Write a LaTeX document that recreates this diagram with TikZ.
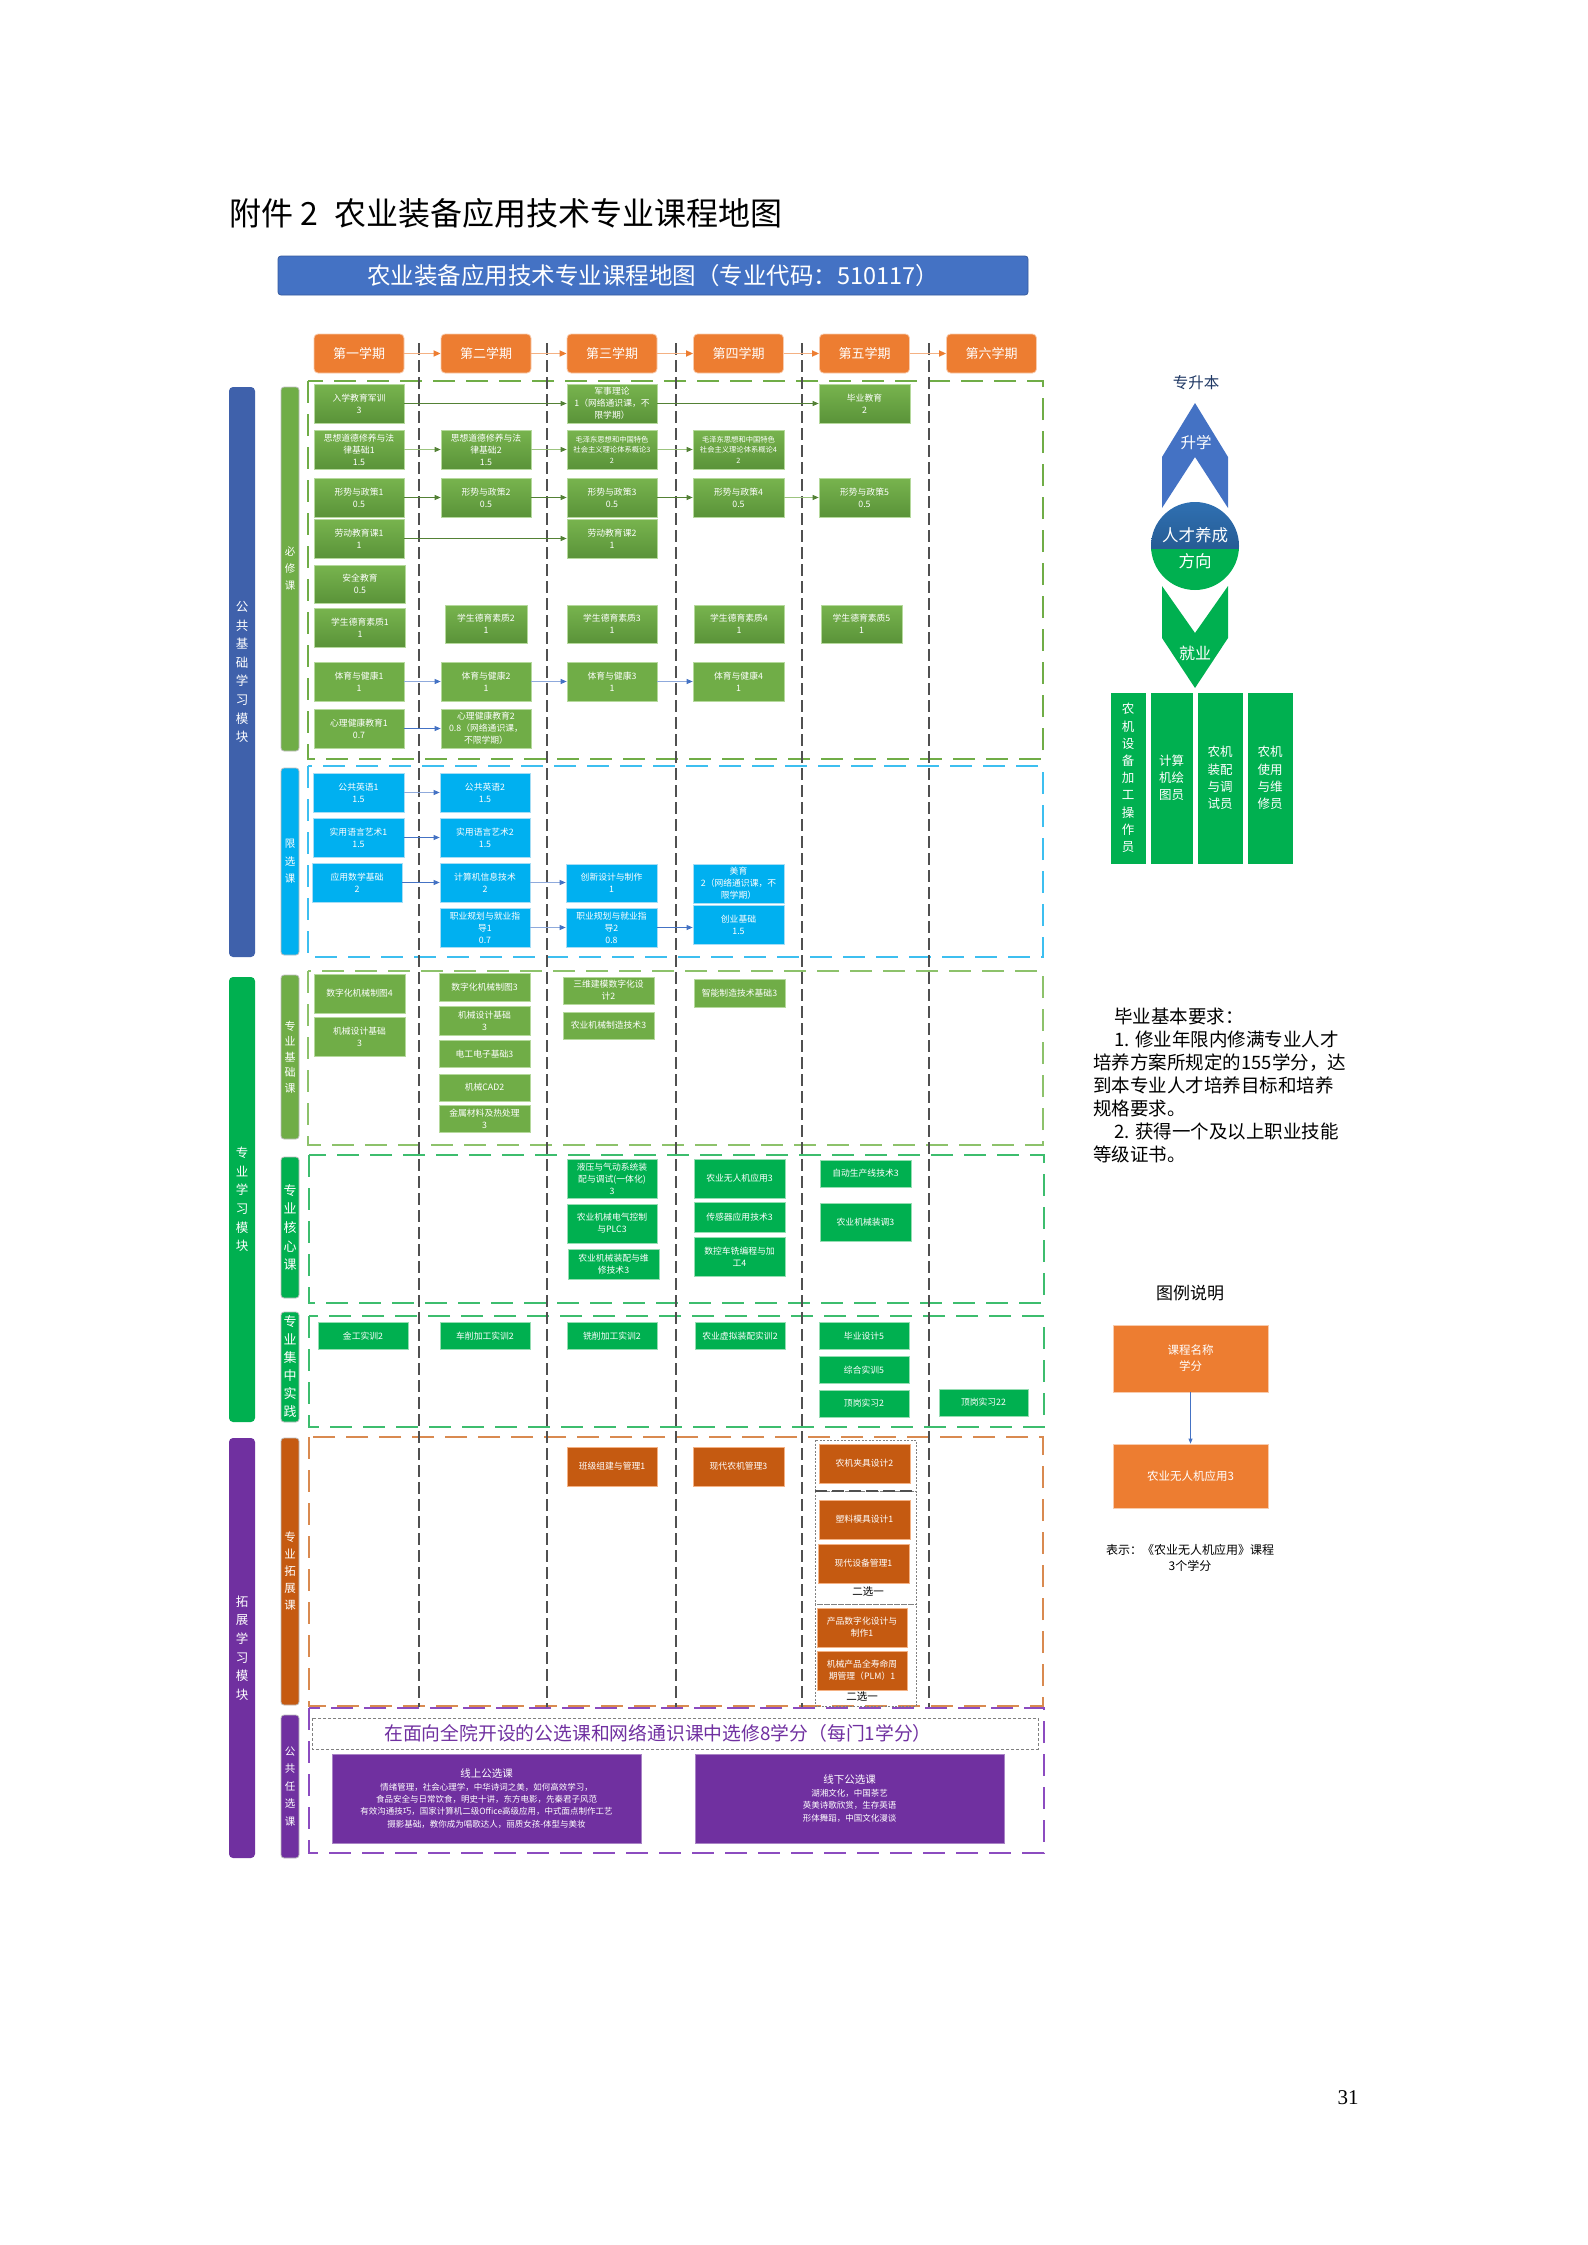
\documentclass[tikz,border=0pt]{standalone}
\usepackage{fontspec}
\setmainfont{Noto Sans CJK SC}
\newfontfamily\serifnum{Liberation Serif}
\usetikzlibrary{arrows.meta}
\definecolor{gAa}{HTML}{78B44E}
\definecolor{gAb}{HTML}{5A9339}
\definecolor{gAe}{HTML}{B5D99C}
\definecolor{cB}{HTML}{00B0F0}
\definecolor{cBe}{HTML}{A6DDF5}
\definecolor{cC}{HTML}{70AD47}
\definecolor{cCe}{HTML}{B5D99C}
\definecolor{cD}{HTML}{00B050}
\definecolor{cDe}{HTML}{95DDB2}
\definecolor{cE}{HTML}{C55A11}
\definecolor{cEe}{HTML}{F4B183}
\definecolor{hdr}{HTML}{ED7D31}
\definecolor{hdre}{HTML}{F8CBAD}
\definecolor{harr}{HTML}{F4B183}
\definecolor{secA}{HTML}{70AD47}
\definecolor{secB}{HTML}{3DBFF0}
\definecolor{secC}{HTML}{8DC26B}
\definecolor{secD}{HTML}{3DBD6E}
\definecolor{secE}{HTML}{D98A50}
\definecolor{secF}{HTML}{8C4CC0}
\definecolor{sepc}{HTML}{505050}
\definecolor{barblue}{HTML}{3F61AB}
\definecolor{purp}{HTML}{7030A0}
\definecolor{bann}{HTML}{4472C4}
\definecolor{circA}{HTML}{2F70B2}
\definecolor{circB}{HTML}{1F4A7A}
\definecolor{navy}{HTML}{1F3864}
\definecolor{arrG}{HTML}{538135}
\definecolor{arrGl}{HTML}{9CC47F}
\definecolor{arrB}{HTML}{4472C4}
\definecolor{arrBl}{HTML}{8FAADC}
\definecolor{barline}{HTML}{BFBFBF}
\tikzset{
  bx/.style={minimum width=90pt, minimum height=39pt, inner sep=0.5pt, align=center, text=white, font=\fontsize{8.8}{12}\selectfont, line width=0.7pt},
  bA/.style={bx, top color=gAa, bottom color=gAb, draw=gAe},
  bB/.style={bx, fill=cB, draw=cBe},
  bC/.style={bx, fill=cC, draw=cCe},
  bD/.style={bx, fill=cD, draw=cDe},
  bE/.style={bx, fill=cE, draw=cEe},
  sepline/.style={draw=sepc, line width=1.3pt, dash pattern=on 12pt off 5pt},
  secbox/.style={line width=1.6pt, dash pattern=on 22pt off 11pt},
  hdbox/.style={fill=hdr, draw=hdre, line width=0.8pt, rounded corners=4pt, minimum width=90pt, minimum height=39pt, text=white, font=\fontsize{13}{15}\selectfont},
  harrow/.style={draw=harr, line width=1.6pt, -{Triangle[length=7pt,width=6pt,color=hdr]}},
  aG/.style={draw=arrG, line width=0.9pt, -{Triangle[length=6pt,width=5pt,color=arrG]}},
  aGl/.style={draw=arrGl, line width=0.9pt, -{Triangle[length=6pt,width=5pt,color=arrG]}},
  aB/.style={draw=arrB, line width=0.9pt, -{Triangle[length=6pt,width=5pt,color=arrB]}},
  aBl/.style={draw=arrBl, line width=0.9pt, -{Triangle[length=6pt,width=5pt,color=arrB]}},
  barout/.style={rounded corners=4pt, minimum width=26pt, inner sep=0pt, text=white, align=center, font=\fontsize{12.5}{18.6}\selectfont},
  barin/.style={rounded corners=3pt, minimum width=18pt, inner sep=0pt, text=white, align=center, draw=barline, line width=0.8pt},
  gbox/.style={fill=cD, draw=white, line width=1pt, text=white, align=center, inner sep=0pt, minimum height=172pt, font=\fontsize{12.5}{17.2}\selectfont},
}
\begin{document}
\begin{tikzpicture}[x=1pt,y=-1pt]
\useasboundingbox (0,0) rectangle (1587,2245);

% title and banner
\node[anchor=west, inner sep=0pt, font=\fontsize{32}{35}\selectfont] (title) at (229,213) {附件 2\hspace{16pt}农业装备应用技术专业课程地图};
\node[fill=bann, draw=bann!80!black, line width=0.8pt, rounded corners=3pt, minimum width=750pt, minimum height=39pt, text=white, font=\fontsize{23.5}{26}\selectfont] (banner) at (653,275.5) {农业装备应用技术专业课程地图（专业代码：510117）};

% side bars
\node[barout, fill=barblue, minimum height=570pt] (m1) at (242,672) {公\\共\\基\\础\\学\\习\\模\\块};
\node[barout, fill=cD, minimum height=445pt] (m2) at (242,1199.5) {专\\业\\学\\习\\模\\块};
\node[barout, fill=purp, minimum height=420pt] (m3) at (242,1648) {拓\\展\\学\\习\\模\\块};

\node[barin, fill=cC, minimum height=364pt, font=\fontsize{10.5}{17}\selectfont] (b1) at (290,569) {必\\修\\课};
\node[barin, fill=cB, minimum height=187pt, font=\fontsize{10.5}{17.5}\selectfont] (b2) at (290,861.5) {限\\选\\课};
\node[barin, fill=cC, minimum height=164pt, font=\fontsize{11}{15.5}\selectfont] (b3) at (290,1057) {专\\业\\基\\础\\课};
\node[barin, fill=cD, minimum height=141pt, font=\fontsize{13}{18.6}\selectfont] (b4) at (290,1227.5) {专\\业\\核\\心\\课};
\node[barin, fill=cD, minimum height=110pt, font=\fontsize{13}{18}\selectfont] (b5) at (290,1367) {专\\业\\集\\中\\实\\践};
\node[barin, fill=cE, minimum height=267pt, font=\fontsize{11.5}{17}\selectfont] (b6) at (290,1571.5) {专\\业\\拓\\展\\课};
\node[barin, fill=purp, minimum height=143pt, font=\fontsize{10.5}{17.5}\selectfont] (b7) at (290,1786.5) {公\\共\\任\\选\\课};

% section frames
\draw[secbox, draw=secA] (308,381) rectangle (1043,759);
\draw[secbox, draw=secB] (308,766) rectangle (1043,957);
\draw[secbox, draw=secC] (308,971) rectangle (1043,1145);
\draw[secbox, draw=secD] (309,1155) rectangle (1044,1303);
\draw[secbox, draw=secD] (309,1316) rectangle (1044,1427);
\draw[secbox, draw=secE] (309,1437) rectangle (1043,1706);
\draw[secbox, draw=secF] (309,1708) rectangle (1044,1853);

% semester separators
\foreach \sx in {419,547,676,802,929} {\draw[sepline] (\sx,343) -- (\sx,1707);}

% semester headers
\node[hdbox] (h1) at (359,353.5) {第一学期};
\node[hdbox] (h2) at (486,353.5) {第二学期};
\node[hdbox] (h3) at (612,353.5) {第三学期};
\node[hdbox] (h4) at (738.5,353.5) {第四学期};
\node[hdbox] (h5) at (864.5,353.5) {第五学期};
\node[hdbox] (h6) at (991.5,353.5) {第六学期};
\draw[harrow] (h1) -- (h2);
\draw[harrow] (h2) -- (h3);
\draw[harrow] (h3) -- (h4);
\draw[harrow] (h4) -- (h5);
\draw[harrow] (h5) -- (h6);

% section 1: required
\node[bA] (ruxue) at (359,403.5) {入学教育军训\\3};
\node[bA] (junshi) at (612,403.5) {军事理论\\1（网络通识课，不\\限学期）};
\node[bA, minimum width=91pt] (biye) at (864.5,403.5) {毕业教育\\2};
\node[bA] (sx1) at (359,449.5) {思想道德修养与法\\律基础1\\1.5};
\node[bA] (sx2) at (486,449.5) {思想道德修养与法\\律基础2\\1.5};
\node[bA, font=\fontsize{7.3}{10.5}\selectfont] (mao3) at (612,449.5) {毛泽东思想和中国特色\\社会主义理论体系概论3\\2};
\node[bA, minimum width=91pt, font=\fontsize{7.3}{10.5}\selectfont] (mao4) at (738.5,449.5) {毛泽东思想和中国特色\\社会主义理论体系概论4\\2};
\node[bA] (xs1) at (359,497.5) {形势与政策1\\0.5};
\node[bA] (xs2) at (486,497.5) {形势与政策2\\0.5};
\node[bA] (xs3) at (612,497.5) {形势与政策3\\0.5};
\node[bA, minimum width=91pt] (xs4) at (738.5,497.5) {形势与政策4\\0.5};
\node[bA, minimum width=91pt] (xs5) at (864.5,497.5) {形势与政策5\\0.5};
\node[bA] (ld1) at (359,538.5) {劳动教育课1\\1};
\node[bA] (ld2) at (612,538.5) {劳动教育课2\\1};
\node[bA, minimum width=91pt, minimum height=38pt] (aq) at (360,584) {安全教育\\0.5};
\node[bA, minimum width=91pt] (dy1) at (360,627.5) {学生德育素质1\\1};
\node[bA, minimum width=82pt, minimum height=38pt] (dy2) at (486,624) {学生德育素质2\\1};
\node[bA, minimum height=38pt] (dy3) at (612,624) {学生德育素质3\\1};
\node[bA, minimum height=38pt] (dy4) at (739,624) {学生德育素质4\\1};
\node[bA, minimum width=81pt, minimum height=38pt] (dy5) at (861.5,624) {学生德育素质5\\1};
\node[bC] (ty1) at (359,681.5) {体育与健康1\\1};
\node[bC] (ty2) at (486,681.5) {体育与健康2\\1};
\node[bC] (ty3) at (612,681.5) {体育与健康3\\1};
\node[bC, minimum width=91pt] (ty4) at (738.5,681.5) {体育与健康4\\1};
\node[bC] (xl1) at (359,728.5) {心理健康教育1\\0.7};
\node[bC] (xl2) at (486,728.5) {心理健康教育2\\0.8（网络通识课，\\不限学期）};

\draw[aG] (ruxue) -- (junshi.west |- ruxue);
\draw[aG] (junshi) -- (biye.west |- junshi);
\draw[aGl] (sx1) -- (sx2.west |- sx1);
\draw[aGl] (sx2) -- (mao3.west |- sx2);
\draw[aGl] (mao3) -- (mao4.west |- mao3);
\draw[aG] (xs1) -- (xs2.west |- xs1);
\draw[aG] (xs2) -- (xs3.west |- xs2);
\draw[aG] (xs3) -- (xs4.west |- xs3);
\draw[aGl] (xs4) -- (xs5.west |- xs4);
\draw[aG] (ld1) -- (ld2.west |- ld1);
\draw[aBl] (ty1) -- (ty2.west |- ty1);
\draw[aBl] (ty2) -- (ty3.west |- ty2);
\draw[aBl] (ty3) -- (ty4.west |- ty3);
\draw[aB] (xl1) -- (xl2.west |- xl1);

% section 2: restricted electives
\node[bB, minimum width=91pt] (yy1) at (358.5,792.5) {公共英语1\\1.5};
\node[bB] (yy2) at (485,792.5) {公共英语2\\1.5};
\node[bB, minimum width=91pt] (ys1) at (358.5,837.5) {实用语言艺术1\\1.5};
\node[bB] (ys2) at (485,837.5) {实用语言艺术2\\1.5};
\node[bB] (shx) at (357,882.5) {应用数学基础\\2};
\node[bB] (jsj) at (485,882.5) {计算机信息技术\\2};
\node[bB, minimum width=91pt, minimum height=38pt] (cxz) at (611.5,883) {创新设计与制作\\1};
\node[bB] (zy1) at (485,927.5) {职业规划与就业指\\导1\\0.7};
\node[bB, minimum width=91pt] (zy2) at (611.5,927.5) {职业规划与就业指\\导2\\0.8};
\node[bB, minimum width=91pt] (meiyu) at (738.5,883.5) {美育\\2（网络通识课，不\\限学期）};
\node[bB, minimum width=91pt] (chye) at (738.5,924.5) {创业基础\\1.5};

\draw[aBl] (yy1) -- (yy2.west |- yy1);
\draw[aB] (ys1) -- (ys2.west |- ys1);
\draw[aB] (shx) -- (jsj.west |- shx);
\draw[aBl] (jsj) -- (cxz.west |- jsj);
\draw[aBl] (zy1) -- (zy2.west |- zy1);
\draw[aB] (zy2) -- (chye.west |- zy2);

% section 3: foundation
\node[bC, minimum width=91pt] (zt4) at (359.5,993.5) {数字化机械制图4};
\node[bC, minimum width=91pt] (sj1) at (359.5,1036.5) {机械设计基础\\3};
\node[bC, minimum width=91pt, minimum height=28pt] (zt3) at (484.5,987) {数字化机械制图3};
\node[bC, minimum width=91pt, minimum height=29pt] (sj2) at (484.5,1020.5) {机械设计基础\\3};
\node[bC, minimum width=91pt, minimum height=27pt] (dgdz) at (484.5,1054) {电工电子基础3};
\node[bC, minimum width=91pt, minimum height=27pt] (cad) at (484.5,1087.5) {机械CAD2};
\node[bC, minimum width=91pt, minimum height=27pt] (jscl) at (484.5,1118.5) {金属材料及热处理\\3};
\node[bC, minimum width=91pt, minimum height=27pt] (swjm) at (608.5,990.5) {三维建模数字化设\\计2};
\node[bC, minimum width=91pt, minimum height=27pt] (nyzz) at (608.5,1025.5) {农业机械制造技术3};
\node[bC, minimum width=91pt, minimum height=28pt] (znzz) at (739.5,993) {智能制造技术基础3};

% section 4: core
\node[bD] (yyqd) at (612,1178.5) {液压与气动系统装\\配与调试(一体化)\\3};
\node[bD] (dqkz) at (612,1223.5) {农业机械电气控制\\与PLC3};
\node[bD, minimum width=91pt, minimum height=30pt] (zpwx) at (613.5,1264) {农业机械装配与维\\修技术3};
\node[bD, minimum width=91pt] (wrj) at (739.5,1178.5) {农业无人机应用3};
\node[bD, minimum width=91pt, minimum height=30pt] (cgq) at (739.5,1217) {传感器应用技术3};
\node[bD, minimum width=91pt] (skcx) at (739.5,1256.5) {数控车铣编程与加\\工4};
\node[bD, minimum width=91pt, minimum height=27pt] (zdsc) at (865.5,1173.5) {自动生产线技术3};
\node[bD, minimum width=91pt, minimum height=38pt] (zjzt) at (865.5,1222) {农业机械装调3};

% section 5: practice
\node[bD, minimum height=27pt] (jgsx) at (363,1336) {金工实训2};
\node[bD, minimum height=27pt] (cxsx) at (485,1336) {车削加工实训2};
\node[bD, minimum height=27pt] (xxsx) at (612,1336) {铣削加工实训2};
\node[bD, minimum height=27pt] (xnsx) at (740,1336) {农业虚拟装配实训2};
\node[bD, minimum height=27pt] (bysj) at (864,1336) {毕业设计5};
\node[bD, minimum height=27pt] (zhsx) at (864,1370) {综合实训5};
\node[bD, minimum height=27pt] (dgsx) at (864,1403.5) {顶岗实习2};
\node[bD, minimum width=89pt, minimum height=27pt] (dgsx2) at (983.5,1402.5) {顶岗实习22};

% section 6: extension
\draw[draw=gray, line width=0.8pt, dash pattern=on 2pt off 1.5pt] (815,1440) rectangle (916,1491);
\draw[draw=gray, line width=0.8pt, dash pattern=on 2pt off 1.5pt] (815,1491) rectangle (916,1604);
\draw[draw=gray, line width=0.8pt, dash pattern=on 2pt off 1.5pt] (815,1604) rectangle (916,1706);
\draw[sepline] (815,1491) -- (916,1491);
\node[bE] (bjzj) at (612,1466.5) {班级组建与管理1};
\node[bE, minimum width=91pt] (xdnj) at (738.5,1466.5) {现代农机管理3};
\node[bE, minimum width=91pt] (njjj) at (864.5,1463.5) {农机夹具设计2};
\node[bE, minimum width=91pt] (slmj) at (864.5,1519.5) {塑料模具设计1};
\node[bE, minimum width=91pt] (xdsb) at (863.5,1563.5) {现代设备管理1};
\node[inner sep=0pt, font=\fontsize{10.5}{12}\selectfont] (exA) at (868,1592) {二选一};
\node[bE] (cpsz) at (862,1627.5) {产品数字化设计与\\制作1};
\node[bE] (plm) at (862,1670.5) {机械产品全寿命周\\期管理（PLM）1};
\node[inner sep=0pt, font=\fontsize{10.5}{12}\selectfont] (exB) at (862,1697) {二选一};

% section 7: public electives
\draw[draw=gray, line width=0.8pt, dash pattern=on 3pt off 2pt] (312,1718) rectangle (1038,1749);
\node[text=purp, inner sep=0pt, font=\fontsize{18.8}{21}\selectfont] (gxk) at (658,1733) {在面向全院开设的公选课和网络通识课中选修8学分（每门1学分）};
\node[fill=purp, draw=purp!60!white, line width=0.8pt, minimum width=309pt, minimum height=89pt, text=white, align=center, inner sep=0pt, font=\fontsize{8.5}{12.4}\selectfont] (online) at (486.5,1798.5) {{\fontsize{10.5}{13}\selectfont 线上公选课}\\情绪管理，社会心理学，中华诗词之美，如何高效学习，\\食品安全与日常饮食，明史十讲，东方电影，先秦君子风范\\有效沟通技巧，国家计算机二级Office高级应用，中式面点制作工艺\\摄影基础，教你成为唱歌达人，丽质女孩-体型与美妆};
\node[fill=purp, draw=purp!60!white, line width=0.8pt, minimum width=309pt, minimum height=89pt, text=white, align=center, inner sep=0pt, font=\fontsize{8.5}{12.8}\selectfont] (offline) at (849.5,1798.5) {{\fontsize{10.5}{13}\selectfont 线下公选课}\\湖湘文化，中国茶艺\\英美诗歌欣赏，生存英语\\形体舞蹈，中国文化漫谈};

% right graphic
\node[inner sep=0pt, text=navy, font=\fontsize{15.5}{17}\selectfont] (zsb) at (1196,383) {专升本};
\fill[bann] (1195,403) -- (1228,457) -- (1228,508) -- (1195,457) -- (1162,508) -- (1162,457) -- cycle;
\fill[cD] (1162,586) -- (1195,633) -- (1228,586) -- (1228,638) -- (1195,688) -- (1162,638) -- cycle;
\begin{scope}
\clip (1140,495) rectangle (1250,549);
\shade[top color=circA, bottom color=circB] (1195,546) circle[radius=44];
\end{scope}
\begin{scope}
\clip (1140,549) rectangle (1250,600);
\fill[cD] (1195,546) circle[radius=44];
\end{scope}
\node[text=white, inner sep=0pt, font=\fontsize{15.5}{17}\selectfont] (shx2) at (1196,443) {升学};
\node[text=white, inner sep=0pt, font=\fontsize{16.5}{18}\selectfont] (rc1) at (1195,535) {人才养成};
\node[text=white, inner sep=0pt, font=\fontsize{16.5}{18}\selectfont] (rc2) at (1195,561) {方向};
\node[text=white, inner sep=0pt, font=\fontsize{16}{18}\selectfont] (jy) at (1195,653) {就业};
\node[gbox, minimum width=36pt] (job1) at (1128,778) {农\\机\\设\\备\\加\\工\\操\\作\\员};
\node[gbox, minimum width=43pt] (job2) at (1171.5,778) {计算\\机绘\\图员};
\node[gbox, minimum width=46pt] (job3) at (1220,778) {农机\\装配\\与调\\试员};
\node[gbox, minimum width=46pt] (job4) at (1270,778) {农机\\使用\\与维\\修员};

% graduation requirements
\node[anchor=north west, align=left, inner sep=0pt, font=\fontsize{18.5}{22.9}\selectfont] (req) at (1093,1008) {\hspace*{21pt}毕业基本要求：\\\hspace*{21pt}1. 修业年限内修满专业人才\\培养方案所规定的155学分，达\\到本专业人才培养目标和培养\\规格要求。\\\hspace*{21pt}2. 获得一个及以上职业技能\\等级证书。};

% legend
\node[inner sep=0pt, font=\fontsize{17}{19}\selectfont] (tlsm) at (1190,1293) {图例说明};
\node[fill=hdr, draw=hdre, line width=0.8pt, minimum width=155pt, minimum height=67pt, text=white, align=center, font=\fontsize{11.5}{16}\selectfont] (lg1) at (1190.5,1358.5) {课程名称\\学分};
\node[fill=hdr, draw=hdre, line width=0.8pt, minimum width=155pt, minimum height=64pt, text=white, align=center, font=\fontsize{11.5}{16}\selectfont] (lg2) at (1190.5,1476) {农业无人机应用3};
\draw[draw=arrB, line width=0.8pt, -{Triangle[length=5pt,width=4pt,color=arrB]}] (lg1) -- (lg2);
\node[inner sep=0pt, align=center, font=\fontsize{12}{16}\selectfont] (lgtxt) at (1190,1558) {表示：《农业无人机应用》课程\\3个学分};

% page number
\node[inner sep=0pt, font=\serifnum\fontsize{21}{24}\selectfont] (pg) at (1348,2098) {31};
\end{tikzpicture}
\end{document}
